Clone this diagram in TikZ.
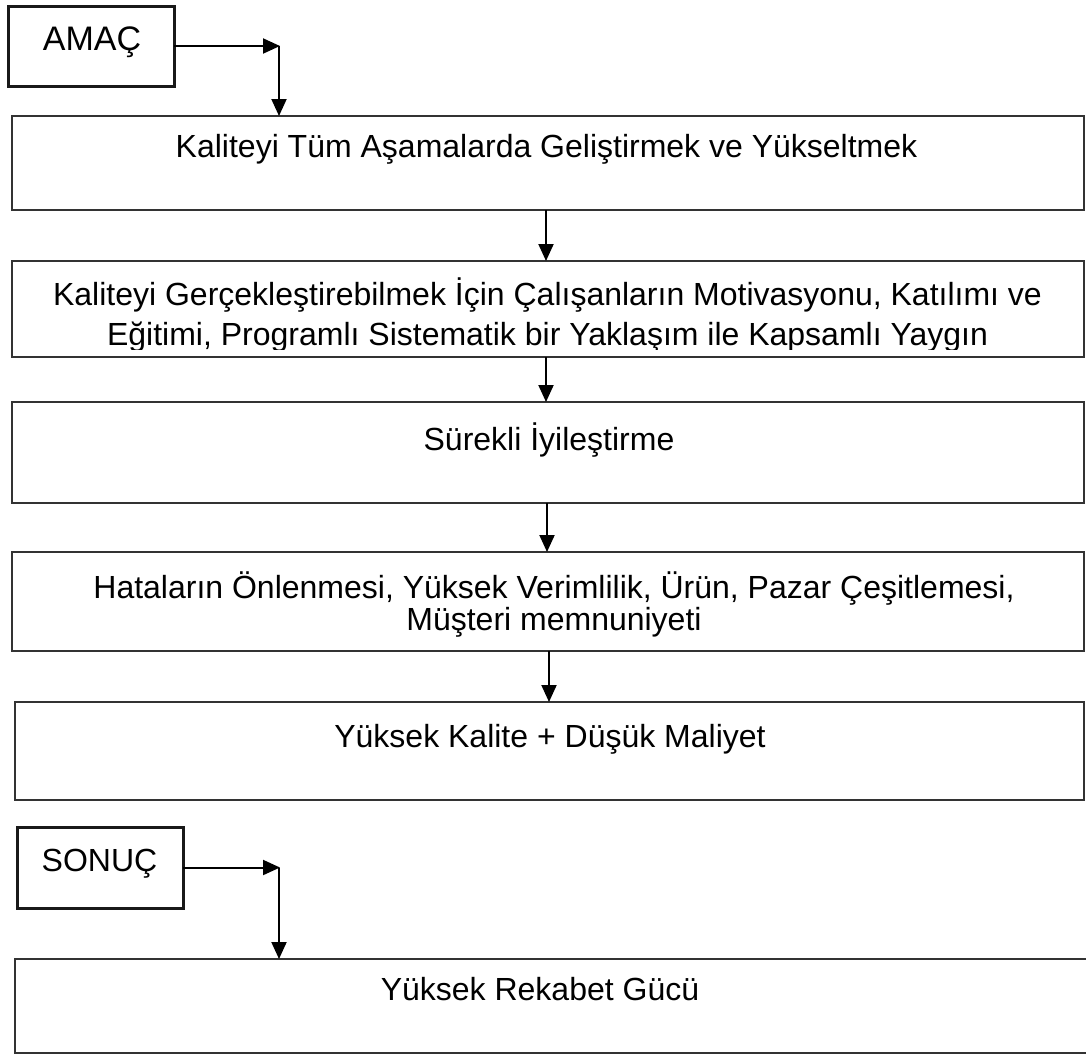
\documentclass[tikz,border=0pt]{standalone}
\usepackage{fontspec}
\setmainfont{Liberation Sans}
\usetikzlibrary{arrows.meta}
\begin{document}
\begin{tikzpicture}[x=1pt,y=-1pt,
  box/.style={draw=black!80,line width=1.8pt,anchor=north west,inner sep=0pt,outer sep=0pt},
  tagbox/.style={draw=black!90,line width=3pt,anchor=north west,inner sep=0pt,outer sep=0pt},
  txt/.style={anchor=base,inner sep=0pt,font=\fontsize{32}{36}\selectfont},
  arr/.style={draw=black,line width=2pt,-{Triangle[length=17pt,width=15pt]}}]
\useasboundingbox (0,0) rectangle (1086,1055);
\fill[white] (0,0) rectangle (1086,1055);

% boxes
\node[tagbox,minimum width=166pt,minimum height=80pt] (amac) at (8,6) {};
\node[box,minimum width=1072pt,minimum height=94pt] (b1) at (12,116) {};
\node[box,minimum width=1072pt,minimum height=96pt] (b2) at (12,261) {};
\node[box,minimum width=1072pt,minimum height=101pt] (b3) at (12,402) {};
\node[box,minimum width=1072pt,minimum height=99pt] (b4) at (12,552) {};
\node[box,minimum width=1069pt,minimum height=98pt] (b5) at (15,702) {};
\node[tagbox,minimum width=166pt,minimum height=81pt] (sonuc) at (17,827) {};
\node[box,minimum width=1080pt,minimum height=94pt] (b6) at (15,959) {};

% texts
\node[txt,font=\fontsize{34}{40}\selectfont] (tamac) at (92,50) {AMAÇ};
\node[txt] (t1) at (546.5,157) {Kaliteyi Tüm Aşamalarda Geliştirmek ve Yükseltmek};
\node[txt] (t2a) at (547.5,305) {Kaliteyi Gerçekleştirebilmek İçin Çalışanların Motivasyonu, Katılımı ve};
\begin{scope}
\clip (12,261) rectangle (1084,349);
\node[txt] (t2b) at (547.5,345) {Eğitimi, Programlı Sistematik bir Yaklaşım ile Kapsamlı Yaygın};
\end{scope}
\node[txt] (t3) at (549,450) {Sürekli İyileştirme};
\node[txt] (t4a) at (554,598) {Hataların Önlenmesi, Yüksek Verimlilik, Ürün, Pazar Çeşitlemesi,};
\node[txt] (t4b) at (554,630) {Müşteri memnuniyeti};
\node[txt] (t5) at (550,747) {Yüksek Kalite + Düşük Maliyet};
\node[txt] (tsonuc) at (99.5,871) {SONUÇ};
\node[txt] (t6) at (540,1000) {Yüksek Rekabet Gücü};

% connectors
\coordinate (ca) at (280,46);
\coordinate (cs) at (280,867.5);
\draw[arr] (amac.east) -- (ca);
\draw[arr] ([xshift=-1pt]ca) -- ([xshift=-1pt]ca |- b1.north);
\draw[arr] (sonuc.east) -- (cs);
\draw[arr] ([xshift=-1pt]cs) -- ([xshift=-1pt]cs |- b6.north);
\draw[arr] (b1.south -| 546,0) -- (b2.north -| 546,0);
\draw[arr] (b2.south -| 546,0) -- (b3.north -| 546,0);
\draw[arr] (b3.south -| 547,0) -- (b4.north -| 547,0);
\draw[arr] (b4.south -| 549,0) -- (b5.north -| 549,0);
\end{tikzpicture}
\end{document}
